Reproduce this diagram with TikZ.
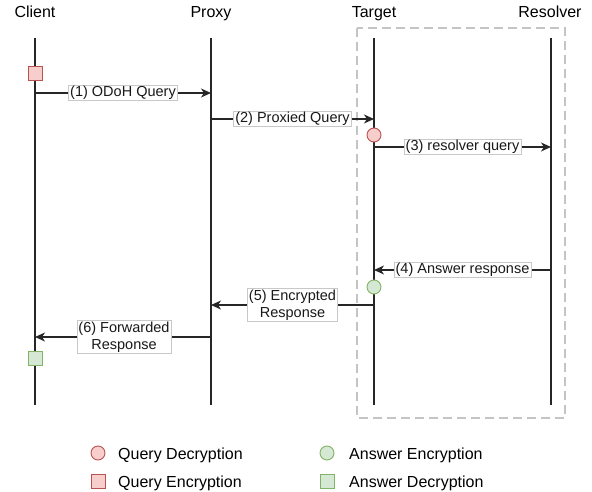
\documentclass[tikz,border=0pt]{standalone}
\usepackage{fontspec}
\setmainfont{Liberation Sans}
\usetikzlibrary{arrows.meta}
\definecolor{qfill}{HTML}{F8CECC}
\definecolor{qline}{HTML}{B85450}
\definecolor{afill}{HTML}{D5E8D4}
\definecolor{aline}{HTML}{82B366}
\definecolor{boxgray}{HTML}{C4C4C4}
\definecolor{lblgray}{HTML}{C8C8C8}
\begin{document}
\begin{tikzpicture}[x=1pt,y=-1pt,
  head/.style={font=\fontsize{16}{19}\selectfont, anchor=base, inner sep=0pt},
  legtext/.style={font=\fontsize{16}{19}\selectfont, anchor=base west, inner sep=0pt},
  life/.style={line width=1.3pt, black!85},
  msg/.style={line width=1.3pt, black!85, -{Stealth[length=10pt,width=9pt,inset=3pt]}},
  lbl/.style={fill=white, draw=lblgray, line width=0.6pt, inner xsep=1.5pt, inner ysep=1pt,
              font=\fontsize{14.5}{17}\selectfont, align=center, text=black!90},
  qcirc/.style={circle, draw=qline, fill=qfill, line width=0.9pt, minimum size=14pt, inner sep=0pt},
  qsq/.style={rectangle, draw=qline, fill=qfill, line width=0.9pt, minimum size=14pt, inner sep=0pt},
  acirc/.style={circle, draw=aline, fill=afill, line width=0.9pt, minimum size=14pt, inner sep=0pt},
  asq/.style={rectangle, draw=aline, fill=afill, line width=0.9pt, minimum size=14pt, inner sep=0pt}]
\useasboundingbox (0,0) rectangle (592,492);

% dashed group box
\draw[boxgray, line width=2.2pt, dash pattern=on 9pt off 5pt] (357,28) rectangle (565,418);

% headers
\node[head] (hclient) at (35,18) {Client};
\node[head] (hproxy) at (211,18) {Proxy};
\node[head] (htarget) at (374,18) {Target};
\node[head] (hres) at (550,18) {Resolver};

% lifelines
\coordinate (ct) at (35,38);  \coordinate (cb) at (35,405);
\coordinate (pt) at (211,38); \coordinate (pb) at (211,405);
\coordinate (tt) at (374,38); \coordinate (tb) at (374,405);
\coordinate (rt) at (551,38); \coordinate (rb) at (551,405);
\draw[life] (ct) -- (cb);
\draw[life] (pt) -- (pb);
\draw[life] (tt) -- (tb);
\draw[life] (rt) -- (rb);

% message anchor points
\coordinate (c1) at (35,93);   \coordinate (p1) at (211,93);
\coordinate (p2) at (211,119); \coordinate (t2) at (374,119);
\coordinate (t3) at (374,147); \coordinate (r3) at (551,147);
\coordinate (r4) at (551,270); \coordinate (t4) at (374,270);
\coordinate (t5) at (374,305); \coordinate (p5) at (211,305);
\coordinate (p6) at (211,337); \coordinate (c6) at (35,337);

\draw[msg] (c1) -- node[lbl] (l1) {(1) ODoH Query} (p1);
\draw[msg] (p2) -- node[lbl] (l2) {(2) Proxied Query} (t2);
\draw[msg] (t3) -- node[lbl] (l3) {(3) resolver query} (r3);
\draw[msg] (r4) -- node[lbl] (l4) {(4) Answer response} (t4);
\draw[msg] (t5) -- node[lbl] (l5) {(5) Encrypted\\Response} (p5);
\draw[msg] (p6) -- node[lbl, xshift=1pt] (l6) {(6) Forwarded\\Response} (c6);

% crypto markers
\node[qsq] (qenc) at (35,73) {};
\node[qcirc] (qdec) at (374,135) {};
\node[acirc] (aenc) at (374,287) {};
\node[asq] (adec) at (35,358) {};

% legend
\node[qcirc] (lg1) at (98,453) {};
\node[legtext] (lt1) at (118,459) {Query Decryption};
\node[qsq] (lg2) at (98,481) {};
\node[legtext] (lt2) at (118,487) {Query Encryption};
\node[acirc] (lg3) at (327,453) {};
\node[legtext] (lt3) at (349,459) {Answer Encryption};
\node[asq] (lg4) at (327,481) {};
\node[legtext] (lt4) at (349,487) {Answer Decryption};
\end{tikzpicture}
\end{document}
